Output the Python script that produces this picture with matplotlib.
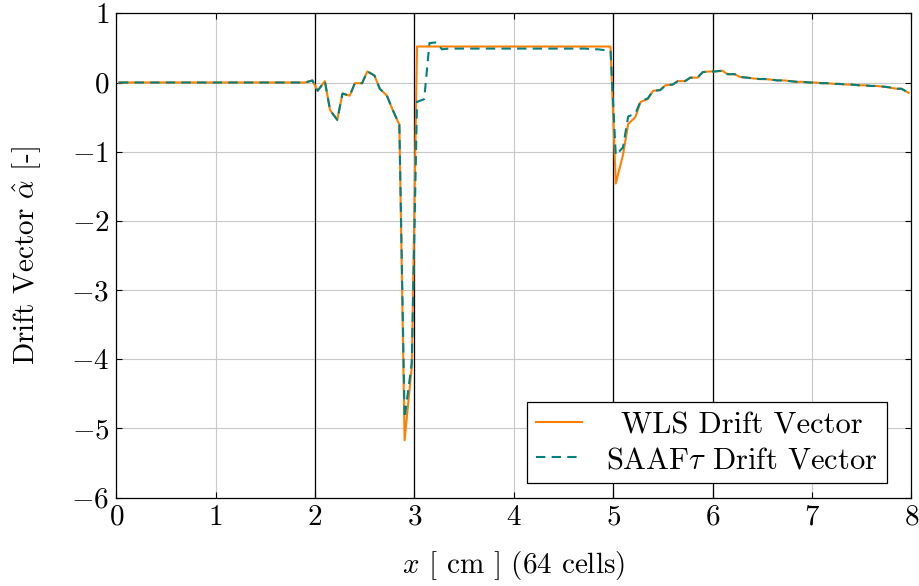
import numpy as np
import matplotlib
matplotlib.use("Agg")
import matplotlib.pyplot as plt

plt.rcParams["font.family"] = ["cmr10", "DejaVu Serif"]
plt.rcParams["mathtext.fontset"] = "cm"
plt.rcParams["axes.formatter.use_mathtext"] = True

# Mesh: 64 cells on [0, 8] cm, two Gauss points per cell
n_cells = 64
x_min, x_max = 0.0, 8.0
interfaces = [2.0, 3.0, 5.0, 6.0]

wls = [
    0.0, 0.0, 0.0, 0.0, 0.0, 0.0, 0.0, 0.0, 0.0, 0.0, 0.0, 0.0, 0.0, 0.0, 0.0, 0.0,
    0.0, 0.0, 0.0, 0.0, 0.0, 0.0, 0.0, 0.0, 0.0, 0.0, 0.0, 0.0, 0.0, 0.0, 0.0, 0.03,
    -0.12, 0.02, -0.40, -0.54, -0.16, -0.19, -0.01, -0.01, 0.16, 0.10, -0.09, -0.19, -0.38, -0.61, -5.17, -4.11,
    0.52, 0.52, 0.52, 0.52, 0.52, 0.52, 0.52, 0.52, 0.52, 0.52, 0.52, 0.52, 0.52, 0.52, 0.52, 0.52,
    0.52, 0.52, 0.52, 0.52, 0.52, 0.52, 0.52, 0.52, 0.52, 0.52, 0.52, 0.52, 0.52, 0.52, 0.52, 0.52,
    -1.46, -1.05, -0.60, -0.50, -0.28, -0.24, -0.12, -0.11, -0.04, -0.03, 0.02, 0.02, 0.07, 0.07, 0.15, 0.16,
    0.16, 0.17, 0.12, 0.12, 0.08, 0.07, 0.06, 0.05, 0.05, 0.04, 0.03, 0.03, 0.02, 0.01, 0.01, 0.00,
    0.00, -0.01, -0.01, -0.02, -0.02, -0.03, -0.03, -0.04, -0.04, -0.05, -0.05, -0.06, -0.07, -0.09, -0.09, -0.15,
]

saaf = [
    0.0, 0.0, 0.0, 0.0, 0.0, 0.0, 0.0, 0.0, 0.0, 0.0, 0.0, 0.0, 0.0, 0.0, 0.0, 0.0,
    0.0, 0.0, 0.0, 0.0, 0.0, 0.0, 0.0, 0.0, 0.0, 0.0, 0.0, 0.0, 0.0, 0.0, 0.0, 0.03,
    -0.12, 0.02, -0.40, -0.54, -0.16, -0.19, -0.01, -0.01, 0.16, 0.10, -0.09, -0.19, -0.38, -0.61, -4.85, -4.05,
    -0.28, -0.24, 0.57, 0.58, 0.48, 0.49, 0.49, 0.49, 0.49, 0.49, 0.49, 0.49, 0.49, 0.49, 0.49, 0.49,
    0.49, 0.49, 0.49, 0.49, 0.49, 0.49, 0.49, 0.49, 0.49, 0.49, 0.49, 0.49, 0.48, 0.48, 0.47, 0.46,
    -1.05, -0.94, -0.49, -0.45, -0.27, -0.23, -0.12, -0.11, -0.04, -0.03, 0.02, 0.02, 0.07, 0.07, 0.15, 0.16,
    0.16, 0.17, 0.12, 0.12, 0.08, 0.07, 0.06, 0.05, 0.05, 0.04, 0.03, 0.03, 0.02, 0.01, 0.01, 0.00,
    0.00, -0.01, -0.01, -0.02, -0.02, -0.03, -0.03, -0.04, -0.04, -0.05, -0.05, -0.06, -0.07, -0.09, -0.09, -0.15,
]

x_ticks = [0, 1, 2, 3, 4, 5, 6, 7, 8]
y_ticks = [-6, -5, -4, -3, -2, -1, 0, 1]

# Gauss-point coordinates
h = (x_max - x_min) / n_cells
left = x_min + h * np.arange(n_cells)
g = 0.5 / np.sqrt(3.0)
x = np.column_stack([left + h * (0.5 - g), left + h * (0.5 + g)]).ravel()

fig = plt.figure(figsize=(9.2, 5.86), dpi=100)
ax = fig.add_axes([0.1264, 0.1507, 0.8641, 0.8266])

orange = (1.0, 0.5, 0.0)
teal = (0.0, 0.5, 0.5)

for xi in interfaces:
    ax.axvline(xi, color="black", lw=0.9, zorder=2)

ax.plot(x, wls, color=orange, lw=1.5, label="WLS Drift Vector", zorder=3)
ax.plot(x, saaf, color=teal, lw=1.5, ls=(0, (4.5, 3)), label=r"SAAF$\tau$ Drift Vector", zorder=4)

ax.set_xlim(x_min, x_max)
ax.set_ylim(-6, 1)
ax.set_xticks(x_ticks)
ax.set_yticks(y_ticks)
ax.grid(True, color="#c8c8c8", lw=0.8, zorder=0)
ax.set_axisbelow(True)
ax.tick_params(direction="in", length=4, width=0.8, top=True, right=True, labelsize=21, pad=5)
for s in ax.spines.values():
    s.set_linewidth(0.9)

ax.set_xlabel(r"$x$ [ cm ] (64 cells)", fontsize=21, labelpad=13)
ax.set_ylabel(r"Drift Vector $\hat{\alpha}$ [-]", fontsize=21, labelpad=20)

leg = ax.legend(loc="lower right", bbox_to_anchor=(0.9694, 0.0297), borderaxespad=0.0,
                fontsize=22, frameon=True, fancybox=False,
                edgecolor="black", framealpha=1.0,
                handlelength=1.5, handletextpad=0.8, borderpad=0.3, labelspacing=0.25)
leg.get_frame().set_linewidth(0.9)

# centre the entry texts within the legend column
fig.canvas.draw()
renderer = fig.canvas.get_renderer()
widths = [t.get_window_extent(renderer).width for t in leg.get_texts()]
for t, w in zip(leg.get_texts(), widths):
    t.set_x((max(widths) - w) / 2.0)

fig.savefig("out.png", dpi=100)
